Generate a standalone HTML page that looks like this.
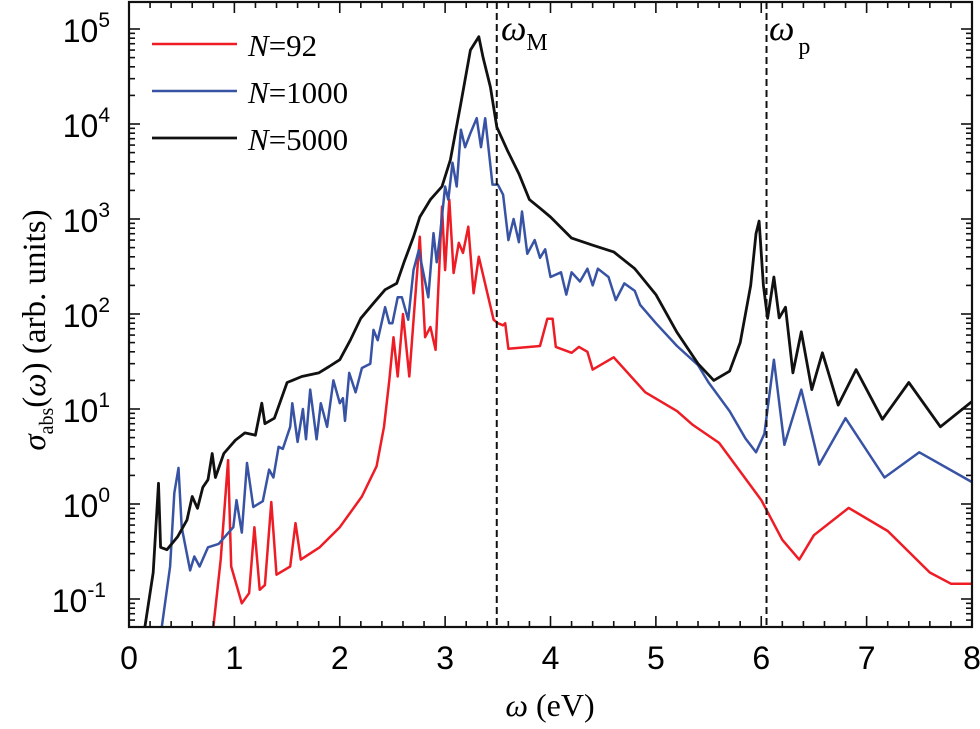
<!DOCTYPE html>
<html><head><meta charset="utf-8"><style>
body{margin:0;background:#fff;}
svg text{font-family:"Liberation Serif",serif;}
.tl{font-family:"Liberation Sans",sans-serif;font-size:32px;}
</style></head><body>
<svg id="chart" width="980" height="724" viewBox="0 0 980 724" xmlns="http://www.w3.org/2000/svg">
<g id="marks"></g>
<g id="axes"></g>
</svg>
<script>
const xTicks=[0,1,2,3,4,5,6,7,8];
const yTickExps=[-1,0,1,2,3,4,5];
const seriesNames=["N=92","N=1000","N=5000"];
const redX=[0.8,0.87,0.94,0.97,1.07,1.14,1.19,1.24,1.29,1.35,1.4,1.53,1.58,1.63,1.81,2.0,2.21,2.35,2.42,2.47,2.51,2.55,2.6,2.66,2.76,2.81,2.86,2.91,2.97,3.0,3.04,3.08,3.13,3.17,3.22,3.27,3.32,3.46,3.5,3.55,3.57,3.6,3.9,3.97,4.02,4.05,4.2,4.27,4.35,4.4,4.6,4.9,5.2,5.35,5.6,5.8,6.0,6.2,6.36,6.5,6.83,7.2,7.6,7.8,8.0];
const redY=[0.05,0.26,2.9,0.22,0.09,0.115,0.57,0.125,0.14,1.05,0.18,0.22,0.63,0.26,0.35,0.57,1.2,2.5,6.5,20,57,22,100,22,650,57,73,42,1350,290,1600,270,560,440,830,165,400,87,80,76,80,43,46,89,89,45,39,45,40,26,35,15,9.5,6.8,4.4,2.2,1.1,0.42,0.26,0.47,0.91,0.52,0.19,0.145,0.145];
const blueX=[0.31,0.39,0.43,0.47,0.5,0.58,0.62,0.67,0.75,0.85,0.99,1.02,1.07,1.12,1.18,1.27,1.33,1.37,1.42,1.46,1.53,1.55,1.6,1.65,1.68,1.72,1.78,1.82,1.88,1.94,2.0,2.03,2.05,2.09,2.15,2.21,2.29,2.32,2.36,2.43,2.47,2.5,2.55,2.59,2.65,2.7,2.75,2.84,2.89,2.92,2.95,3.0,3.03,3.07,3.11,3.15,3.19,3.24,3.3,3.34,3.38,3.45,3.5,3.55,3.6,3.65,3.7,3.73,3.78,3.85,3.9,3.95,4.0,4.1,4.15,4.2,4.28,4.35,4.4,4.45,4.55,4.62,4.7,4.8,4.85,5.0,5.2,5.4,5.5,5.7,5.85,5.95,6.03,6.12,6.22,6.38,6.55,6.8,7.17,7.5,8.0];
const blueY=[0.05,0.22,1.3,2.4,0.57,0.2,0.28,0.22,0.35,0.38,0.57,1.1,0.5,2.7,0.93,1.07,2.3,1.9,4.0,3.8,6.5,11.5,4.5,10,4.8,16,4.8,11.5,6.5,20,11.5,13,7.5,24,15,27,30,68,53,118,80,80,150,150,87,290,470,150,710,350,650,2200,1600,3900,2200,8700,5700,8000,11500,5700,11500,2300,2300,1800,600,1000,570,1200,430,600,390,480,245,275,160,275,220,300,200,300,245,140,210,175,125,80,46,29,19,9.5,4.9,3.5,5.5,33,4.2,16,2.6,8,1.9,3.5,1.7];
const blackX=[0.15,0.23,0.28,0.3,0.36,0.46,0.55,0.6,0.65,0.7,0.75,0.79,0.82,0.9,1.01,1.1,1.2,1.26,1.29,1.38,1.5,1.55,1.64,1.8,1.9,2.0,2.1,2.2,2.32,2.43,2.54,2.61,2.7,2.76,2.86,2.97,3.05,3.15,3.24,3.32,3.36,3.43,3.49,3.59,3.7,3.8,3.9,4.0,4.2,4.4,4.6,4.8,5.0,5.2,5.4,5.55,5.7,5.8,5.9,5.95,5.98,6.02,6.06,6.12,6.17,6.23,6.3,6.38,6.48,6.58,6.73,6.9,7.15,7.4,7.7,8.0];
const blackY=[0.05,0.19,1.65,0.35,0.33,0.45,0.68,1.2,0.9,1.5,1.8,3.4,1.9,3.4,4.7,5.6,5.3,11.5,7,8,19,20,22,24,28,33,53,90,130,180,210,350,650,1050,1600,2200,4200,16600,60000,83000,50000,24500,9300,5300,3000,1600,1300,1050,630,530,450,300,160,64,30,20,25,50,200,700,950,200,90,245,91,118,24,65,16,39,11,26,7.8,19,6.5,12];

const L=129,R=972,T=2,B=627,DEC=95,Y0=504;
const xs=v=>L+v*(R-L)/8;
const ys=v=>Y0-Math.log10(v)*DEC;
const NS="http://www.w3.org/2000/svg";
const marks=document.getElementById('marks'),axes=document.getElementById('axes');
function mk(tag,at,parent){const e=document.createElementNS(NS,tag);for(const k in at)e.setAttribute(k,at[k]);parent.appendChild(e);return e;}

const clip=mk('clipPath',{id:'pc'},marks);mk('rect',{x:L,y:T,width:R-L,height:B-T},clip);
const g=mk('g',{'clip-path':'url(#pc)'},marks);
function line(X,Y,color,w,name){
  let d='';for(let i=0;i<X.length;i++)d+=(i?'L':'M')+xs(X[i]).toFixed(1)+','+ys(Y[i]).toFixed(1);
  const p=mk('path',{d:d,fill:'none',stroke:color,'stroke-width':w,'stroke-linejoin':'round'},g);
  
  
}
line(redX,redY,'#ee1c25',2.5,'series-n92-line');
line(blueX,blueY,'#3853a4',2.5,'series-n1000-line');
line(blackX,blackY,'#111',2.8,'series-n5000-line');
[[3.49,'omega-m-line'],[6.05,'omega-p-line']].forEach(([v,n])=>{
  const l=mk('line',{x1:xs(v),x2:xs(v),y1:T,y2:B,stroke:'#111','stroke-width':2,'stroke-dasharray':'7,4'},marks);
  
  
});
const fr=mk('rect',{x:L,y:T,width:R-L,height:B-T,fill:'none',stroke:'#111','stroke-width':2.2},axes);


for(let i=0;i<=40;i++){const v=i*0.2,x=xs(v),len=(i%5==0)?11:6;
  mk('line',{x1:x,x2:x,y1:B,y2:B-len,stroke:'#111','stroke-width':1.6},axes);
  mk('line',{x1:x,x2:x,y1:T,y2:T+len,stroke:'#111','stroke-width':1.6},axes);}
xTicks.forEach(v=>{const t=mk('text',{x:xs(v),y:669,'text-anchor':'middle',class:'tl'},axes);t.textContent=v;
  
  });
for(let e=-2;e<=5;e++){for(let m=1;m<=9;m++){const y=ys(m*Math.pow(10,e));if(y<T||y>B)continue;const len=m==1?11:6;
  mk('line',{x1:L,x2:L+len,y1:y,y2:y,stroke:'#111','stroke-width':1.6},axes);
  mk('line',{x1:R,x2:R-len,y1:y,y2:y,stroke:'#111','stroke-width':1.6},axes);}}
yTickExps.forEach(e=>{const t=mk('text',{x:e<0?106:110,y:ys(Math.pow(10,e))+13,'text-anchor':'end',class:'tl'},axes);
  
  
  t.innerHTML='10<tspan dy="-15" font-size="21">'+e+'</tspan>';});
</script>
<svg style="position:absolute;left:0;top:0" width="980" height="724" xmlns="http://www.w3.org/2000/svg">
<g>
<line x1="152" x2="237" y1="44" y2="44" stroke="#ee1c25" stroke-width="2.5"/>
<text x="248" y="56" font-size="31" font-family="Liberation Serif, serif"><tspan font-style="italic">N</tspan>=92</text>
<line x1="152" x2="237" y1="91" y2="91" stroke="#3853a4" stroke-width="2.5"/>
<text x="248" y="103" font-size="31" font-family="Liberation Serif, serif"><tspan font-style="italic">N</tspan>=1000</text>
<line x1="152" x2="237" y1="138" y2="138" stroke="#111" stroke-width="2.8"/>
<text x="248" y="150" font-size="31" font-family="Liberation Serif, serif"><tspan font-style="italic">N</tspan>=5000</text>
</g>
<text x="501" y="40" font-size="36" font-style="italic" font-family="Liberation Serif, serif">ω<tspan font-style="normal" font-size="24" dy="10">M</tspan></text>
<text x="769" y="40" font-size="36" font-style="italic" font-family="Liberation Serif, serif">ω<tspan font-style="normal" font-size="24" dy="14" dx="4">p</tspan></text>
<text x="550" y="716" text-anchor="middle" font-size="32" font-family="Liberation Serif, serif"><tspan font-style="italic">ω</tspan> (eV)</text>
<text transform="translate(45,330) rotate(-90)" text-anchor="middle" font-size="33" font-family="Liberation Serif, serif"><tspan font-style="italic">σ</tspan><tspan font-size="20" dy="8">abs</tspan><tspan dy="-8">(</tspan><tspan font-style="italic">ω</tspan>) (arb. units)</text>
</svg>
</body></html>
